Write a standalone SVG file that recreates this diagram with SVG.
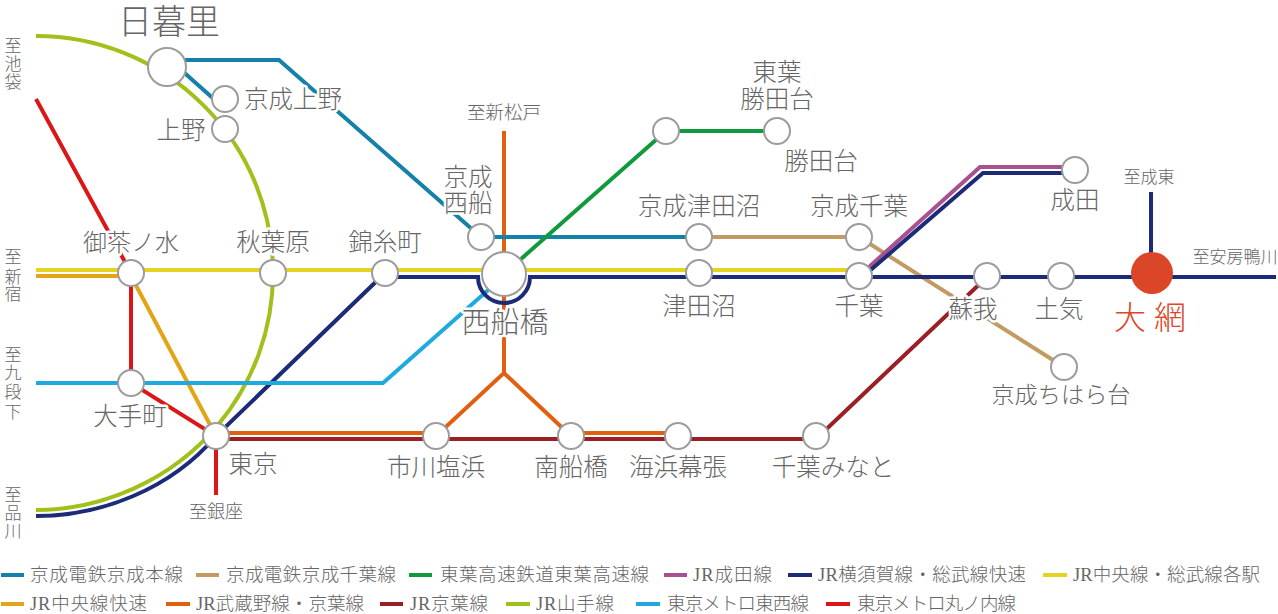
<svg xmlns="http://www.w3.org/2000/svg" width="1278" height="614" viewBox="0 0 1278 614">
<style>
text{font-family:"Liberation Serif","Noto Sans CJK JP","Noto Sans CJK SC",sans-serif;font-weight:300;fill:#666;text-anchor:middle;paint-order:stroke;stroke:#fff;stroke-width:5px;stroke-linejoin:round}
.s24{font-size:24.5px}.s17{font-size:17px;stroke-width:0}
.lg{font-size:18.5px;text-anchor:start;stroke-width:0}
path{fill:none;stroke-width:4}
.st{fill:#fff;stroke:#9c9c9c;stroke-width:2}
.ke{stroke:#1481a8}.kc{stroke:#c49a63}.to{stroke:#109a3e}.na{stroke:#a9518f}.sb{stroke:#1c2b78}.cb{stroke:#e3d424}.cr{stroke:#e3a416}.mu{stroke:#e0600f}.ky{stroke:#9b2025}.ya{stroke:#a0c01a}.tz{stroke:#1eaadf}.ma{stroke:#dc1617}
</style>
<rect width="1278" height="614" fill="#fff"/>
<g id="connectors">
<path class="ya" d="M36,36 A237,237 0 0 1 273,273 A237,237 0 0 1 218,425 C170,482 100,510 36,510"/>
<path class="sb" d="M36,516 C100,516 170,490 216,436 L385,273"/>
<path class="ma" d="M36,99 L131,273 V383 L216,436 V495"/>
<path class="cr" d="M36,276 H131 L216,436"/>
<path class="tz" d="M36,383 H383 L504,276"/>
<path class="mu" d="M504,131 V373 L436,436 M504,373 L571,436"/>
<path class="mu" d="M216,433 H436 M571,433 H678"/>
<path class="ky" d="M216,439 H816 L987,277"/>
<path class="ke" d="M167,60 H279 L481,237 H699"/>
<path class="ke" d="M170,60 L225,109"/>
<path class="kc" d="M699,237 H859 L1064,367"/>
<path class="to" d="M504,274 L666,131 H777"/>
<path class="na" d="M859,276 L980,167 H1075"/>
<path class="sb" d="M859,280 L983,173 H1075"/>
<path class="cb" d="M36,270 H859"/>
<path class="sb" d="M385,277 H478 A26,26 0 0 0 530,277 H1276"/>
<path class="sb" d="M1151,192 V274"/>
</g>
<g id="terminals">
<text class="s17" x="13" y="52">至<tspan x="13" dy="18">池</tspan><tspan x="13" dy="18">袋</tspan></text>
<text class="s17" x="13" y="263">至<tspan x="13" dy="20">新</tspan><tspan x="13" dy="17">宿</tspan></text>
<text class="s17" x="13" y="361">至<tspan x="13" dy="18">九</tspan><tspan x="13" dy="19">段</tspan><tspan x="13" dy="20">下</tspan></text>
<text class="s17" x="13" y="501">至<tspan x="13" dy="18">品</tspan><tspan x="13" dy="18">川</tspan></text>
<text class="s17" x="504" y="119" style="font-size:18.5px">至新松戸</text>
<text class="s17" x="216" y="518" style="font-size:18px">至銀座</text>
<text class="s17" x="1149" y="183">至成東</text>
<text class="s17" x="1235" y="263">至安房鴨川</text>
</g>
<g id="n-nippori"><circle class="st" cx="167" cy="67" r="19"/><text x="169" y="34" font-size="34">日暮里</text></g>
<g id="n-keisei-ueno"><circle class="st" cx="225" cy="99" r="13"/><text class="s24" x="293" y="108">京成上野</text></g>
<g id="n-ueno"><circle class="st" cx="225" cy="129" r="13"/><text class="s24" x="181" y="139">上野</text></g>
<g id="n-ochanomizu"><circle class="st" cx="131" cy="273" r="13"/><text class="s24" x="131" y="251" style="font-size:24px">御茶ノ水</text></g>
<g id="n-akihabara"><circle class="st" cx="273" cy="273" r="13"/><text class="s24" x="273" y="251">秋葉原</text></g>
<g id="n-kinshicho"><circle class="st" cx="385" cy="273" r="13"/><text class="s24" x="385" y="251">錦糸町</text></g>
<g id="n-keisei-nishifunabashi"><circle class="st" cx="481" cy="237" r="13"/><text class="s24" x="468" y="186">京成</text><text class="s24" x="468" y="212">西船</text></g>
<g id="n-nishifunabashi"><circle class="st" cx="504" cy="274" r="22"/><text x="505" y="333" font-size="29">西船橋</text></g>
<g id="n-toyo"><circle class="st" cx="666" cy="131" r="13"/></g>
<g id="n-toyo-katsutadai"><circle class="st" cx="777" cy="131" r="13"/><text class="s24" x="777" y="81">東葉</text><text class="s24" x="777" y="108">勝田台</text><text class="s24" x="821" y="170">勝田台</text></g>
<g id="n-keisei-tsudanuma"><circle class="st" cx="699" cy="237" r="13"/><text class="s24" x="699" y="215">京成津田沼</text></g>
<g id="n-tsudanuma"><circle class="st" cx="699" cy="273" r="13"/><text class="s24" x="699" y="315">津田沼</text></g>
<g id="n-keisei-chiba"><circle class="st" cx="859" cy="237" r="13"/><text class="s24" x="859" y="215">京成千葉</text></g>
<g id="n-chiba"><circle class="st" cx="859" cy="276" r="13"/><text class="s24" x="859" y="315">千葉</text></g>
<g id="n-narita"><circle class="st" cx="1075" cy="170" r="13"/><text class="s24" x="1075" y="209">成田</text></g>
<g id="n-soga"><circle class="st" cx="987" cy="276" r="13"/><text class="s24" x="973" y="318">蘇我</text></g>
<g id="n-toke"><circle class="st" cx="1061" cy="276" r="13"/><text class="s24" x="1059" y="318">土気</text></g>
<g id="n-oami"><circle cx="1152" cy="273" r="21" fill="#db4629"/><text x="1150" y="329" font-size="32" style="fill:#db4629">大 網</text></g>
<g id="n-chiharadai"><circle class="st" cx="1064" cy="367" r="13"/><text class="s24" x="1061" y="403" style="font-size:23.2px">京成ちはら台</text></g>
<g id="n-otemachi"><circle class="st" cx="131" cy="383" r="13"/><text class="s24" x="130" y="425">大手町</text></g>
<g id="n-tokyo"><circle class="st" cx="216" cy="436" r="13"/><text class="s24" x="253" y="473">東京</text></g>
<g id="n-ichikawa"><circle class="st" cx="436" cy="436" r="13"/><text class="s24" x="436" y="476">市川塩浜</text></g>
<g id="n-minamifunabashi"><circle class="st" cx="571" cy="436" r="13"/><text class="s24" x="571" y="476">南船橋</text></g>
<g id="n-kaihin"><circle class="st" cx="678" cy="436" r="13"/><text class="s24" x="678" y="476">海浜幕張</text></g>
<g id="n-chibaminato"><circle class="st" cx="816" cy="436" r="13"/><text class="s24" x="833" y="476">千葉みなと</text></g>
<g id="legend">
<path class="ke" d="M1,575 H24"/><text class="lg" x="30" y="581" textLength="153">京成電鉄京成本線</text>
<path class="kc" d="M196,575 H219"/><text class="lg" x="226" y="581" textLength="170">京成電鉄京成千葉線</text>
<path class="to" d="M409,575 H432"/><text class="lg" x="440" y="581" textLength="209">東葉高速鉄道東葉高速線</text>
<path class="na" d="M664,575 H687"/><text class="lg" x="693" y="581" textLength="79">JR成田線</text>
<path class="sb" d="M788,575 H812"/><text class="lg" x="818" y="581" textLength="208">JR横須賀線・総武線快速</text>
<path class="cb" d="M1043,575 H1067"/><text class="lg" x="1073" y="581" textLength="187">JR中央線・総武線各駅</text>
<path class="cr" d="M1,604 H24"/><text class="lg" x="30" y="610" textLength="117">JR中央線快速</text>
<path class="mu" d="M166,604 H190"/><text class="lg" x="196" y="610" textLength="168">JR武蔵野線・京葉線</text>
<path class="ky" d="M380,604 H403"/><text class="lg" x="410" y="610" textLength="78">JR京葉線</text>
<path class="ya" d="M506,604 H530"/><text class="lg" x="536" y="610" textLength="78">JR山手線</text>
<path class="tz" d="M636,604 H660"/><text class="lg" x="667" y="610" textLength="142">東京メトロ東西線</text>
<path class="ma" d="M826,604 H850"/><text class="lg" x="857" y="610" textLength="159">東京メトロ丸ノ内線</text>
</g>
</svg>
